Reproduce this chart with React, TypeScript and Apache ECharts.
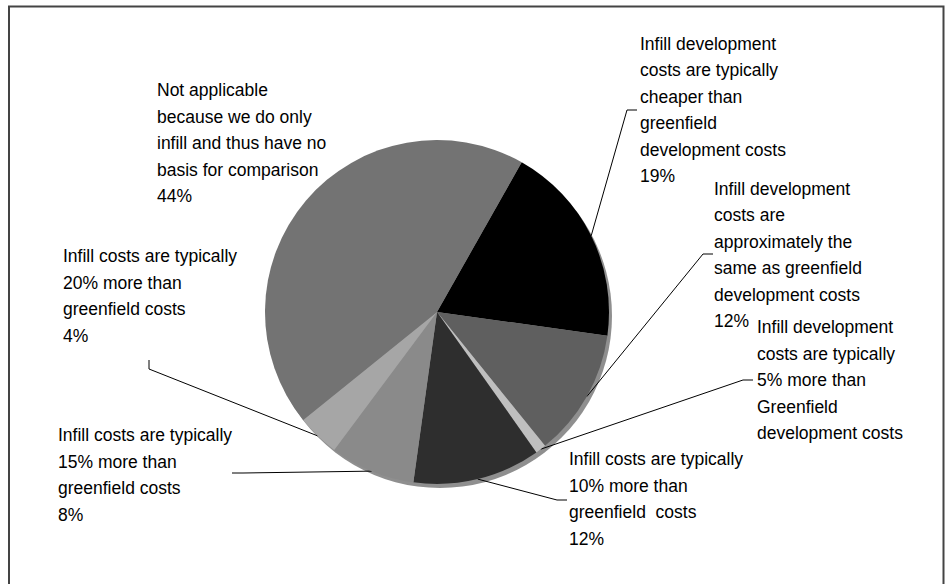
import React, { useEffect, useRef } from 'react';
import * as echarts from 'echarts';

// ---- data ----
const categories: string[] = [
  'Infill development\ncosts are typically\ncheaper than\ngreenfield\ndevelopment costs',
  'Infill development\ncosts are\napproximately the\nsame as greenfield\ndevelopment costs',
  'Infill development\ncosts are typically\n5% more than\nGreenfield\ndevelopment costs',
  'Infill costs are typically\n10% more than\ngreenfield  costs',
  'Infill costs are typically\n15% more than\ngreenfield costs',
  'Infill costs are typically\n20% more than\ngreenfield costs',
  'Not applicable\nbecause we do only\ninfill and thus have no\nbasis for comparison',
];
const values: number[] = [19, 12, 1, 12, 8, 4, 44];
const showPercent: boolean[] = [true, true, false, true, true, true, true];

// ---- styles / layout ----
const sliceColors = ['#000000', '#5f5f5f', '#bfbfbf', '#2e2e2e', '#8a8a8a', '#a6a6a6', '#737373'];
const FONT = '"Liberation Sans", Arial, sans-serif';

// label anchor (left x, vertical middle y) and leader-line elbow points
const labelAnchors: { x: number; y: number; line: number[][] | null }[] = [
  { x: 640, y: 110, line: [[627, 110], [637, 110]] },
  { x: 714, y: 255, line: [[703, 254], [713, 254]] },
  { x: 757, y: 380, line: [[743, 380], [753, 380]] },
  { x: 569, y: 499, line: [[557, 500], [567, 500]] },
  { x: 58, y: 475, line: [[243, 473], [232, 473]] },
  { x: 63, y: 296, line: [[149, 369], [149, 360]] },
  { x: 157, y: 143, line: null },
];

export default function App() {
  const ref = useRef<HTMLDivElement>(null);
  useEffect(() => {
    document.body.style.margin = '0';
    if (!ref.current) return;
    const chart = echarts.init(ref.current, null, { renderer: 'svg' });
    const data = values.map((v, i) => ({
      name: categories[i],
      value: v,
      itemStyle: { color: sliceColors[i] },
      labelLine: { show: labelAnchors[i].line !== null },
    }));
    chart.setOption({
      animation: false,
      backgroundColor: '#ffffff',
      graphic: [
        {
          type: 'polyline',
          silent: true,
          shape: { points: [[9, 584], [9, 6.5], [943.5, 6.5], [943.5, 584]] },
          style: { stroke: '#444444', lineWidth: 2, fill: 'none' },
        },
      ],
      series: [
        {
          type: 'pie',
          name: 'rim',
          silent: true,
          center: [440, 316],
          radius: 172,
          z: 1,
          label: { show: false },
          labelLine: { show: false },
          data: [{ value: 1, name: 'rim', itemStyle: { color: '#8f8f8f' } }],
        },
        {
          type: 'pie',
          z: 2,
          center: [437, 312],
          radius: 172,
          startAngle: 60.5,
          clockwise: true,
          avoidLabelOverlap: false,
          data,
          label: {
            show: true,
            position: 'outside',
            formatter: (p: any) =>
              showPercent[p.dataIndex] ? `${p.name}\n${values[p.dataIndex]}%` : p.name,
            fontFamily: FONT,
            fontSize: 17.5,
            lineHeight: 26.5,
            color: '#000000',
            align: 'left',
          },
          labelLine: { show: true, lineStyle: { color: '#000000', width: 1 } },
          labelLayout: (params: any) => {
            const a = labelAnchors[params.dataIndex];
            const res: any = { x: a.x, y: a.y, align: 'left', verticalAlign: 'middle' };
            if (a.line && params.labelLinePoints) {
              res.labelLinePoints = [params.labelLinePoints[0], ...a.line];
            }
            return res;
          },
        },
      ],
    });
    return () => chart.dispose();
  }, []);
  return <div ref={ref} style={{ width: 952, height: 584 }} />;
}
